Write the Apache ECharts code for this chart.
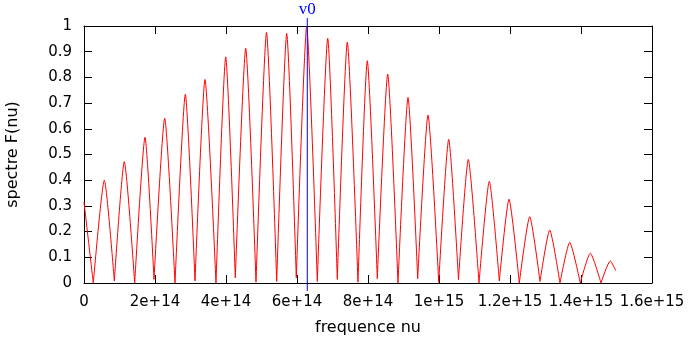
<!DOCTYPE html>
<html><head><meta charset="utf-8">
<script src="https://cdn.jsdelivr.net/npm/echarts@6/dist/echarts.min.js"></script>
<style>html,body{margin:0;padding:0;background:#fff}#c{width:688px;height:341px}</style>
</head><body><div id="c"></div>
<script>
// frequencies in units of 1e14 Hz
const startPoint = [0.0, 0.315];
const endPoint = [14.98, 0.048];
const peakFreq = [0.572,1.135,1.718,2.273,2.854,3.408,3.992,4.555,5.141,5.710,6.273,6.865,7.417,7.980,8.555,9.127,9.690,10.273,10.825,11.417,11.972,12.555,13.118,13.682,14.262,14.825];
const peakVal  = [0.400,0.472,0.567,0.641,0.734,0.792,0.880,0.913,0.975,0.971,0.997,0.952,0.937,0.865,0.813,0.722,0.654,0.559,0.481,0.396,0.326,0.258,0.206,0.158,0.116,0.086];
const troughFreq = [0.262,0.854,1.428,1.972,2.563,3.127,3.718,4.262,4.845,5.428,5.980,6.572,7.135,7.718,8.262,8.845,9.400,9.992,10.549,11.127,11.699,12.262,12.845,13.408,13.980,14.563];
const troughVal  = [0.000,0.008,0.000,0.014,0.000,0.008,0.000,0.020,0.003,0.006,0.020,0.006,0.014,0.003,0.017,0.000,0.017,0.003,0.013,0.000,0.008,0.000,0.006,0.000,0.000,0.000];
const nu0 = 6.29;
const nu0LineRange = [-0.031, 1.031];
const nu0Label = 'v0';
const xTickLabels = ['0','2e+14','4e+14','6e+14','8e+14','1e+15','1.2e+15','1.4e+15','1.6e+15'];
const yTickLabels = ['0','0.1','0.2','0.3','0.4','0.5','0.6','0.7','0.8','0.9','1'];
const xName = 'frequence nu';
const yName = 'spectre F(nu)';

// build lobes: each lobe trough -> peak -> trough, separated by breaks
const spec = [startPoint, [troughFreq[0], troughVal[0]], [troughFreq[0], null]];
for (let i = 0; i < peakFreq.length; i++) {
  spec.push([troughFreq[i], troughVal[i]]);
  spec.push([peakFreq[i], peakVal[i]]);
  if (i + 1 < troughFreq.length) {
    spec.push([troughFreq[i+1], troughVal[i+1]]);
    spec.push([troughFreq[i+1], null]);
  } else {
    spec.push(endPoint);
  }
}

const FONT = 'DejaVu Sans';
const axisCommon = {
  type: 'value',
  axisLine: { show: true, onZero: false, lineStyle: { color: '#000', width: 1 } },
  axisTick: { show: true, inside: true, length: 8, lineStyle: { color: '#000', width: 1 } },
  splitLine: { show: false }
};
const chart = echarts.init(document.getElementById('c'), null, { renderer: 'canvas' });
chart.setOption({
  animation: false,
  backgroundColor: '#fff',
  grid: { left: 84, right: 36, top: 26, bottom: 58, show: false, outerBoundsMode: 'none', containLabel: false },
  xAxis: [
    Object.assign({}, axisCommon, {
      min: 0, max: 16, interval: 2, position: 'bottom',
      name: xName, nameLocation: 'middle', nameGap: 37,
      nameTextStyle: { fontFamily: FONT, fontSize: 16, color: '#000' },
      axisLabel: { margin: 12, fontFamily: FONT, fontSize: 15, color: '#000',
        formatter: v => xTickLabels[Math.round(v / 2)] }
    }),
    Object.assign({}, axisCommon, {
      min: 0, max: 16, interval: 2, position: 'top', axisLabel: { show: false }
    })
  ],
  yAxis: [
    Object.assign({}, axisCommon, {
      min: 0, max: 1, interval: 0.1, position: 'left',
      name: yName, nameLocation: 'middle', nameGap: 63,
      nameTextStyle: { fontFamily: FONT, fontSize: 16, color: '#000' },
      axisLabel: { margin: 12, fontFamily: FONT, fontSize: 15, color: '#000',
        formatter: v => yTickLabels[Math.round(v * 10)] }
    }),
    Object.assign({}, axisCommon, {
      min: 0, max: 1, interval: 0.1, position: 'right', axisLabel: { show: false }
    })
  ],
  series: [
    {
      type: 'line', data: spec, smooth: 0.2, connectNulls: false,
      showSymbol: false, symbol: 'none',
      lineStyle: { color: '#ff0000', width: 1 }
    },
    {
      type: 'line', clip: false, showSymbol: true, symbol: 'circle', symbolSize: 0,
      itemStyle: { color: '#0000ff' },
      lineStyle: { color: '#0000ff', width: 1 },
      data: [
        [nu0, nu0LineRange[0]],
        { value: [nu0, nu0LineRange[1]],
          label: { show: true, formatter: nu0Label, position: 'top', distance: 0,
            color: '#0000ff', fontFamily: 'Liberation Serif', fontSize: 17 } }
      ]
    }
  ]
});
</script>
</body></html>
